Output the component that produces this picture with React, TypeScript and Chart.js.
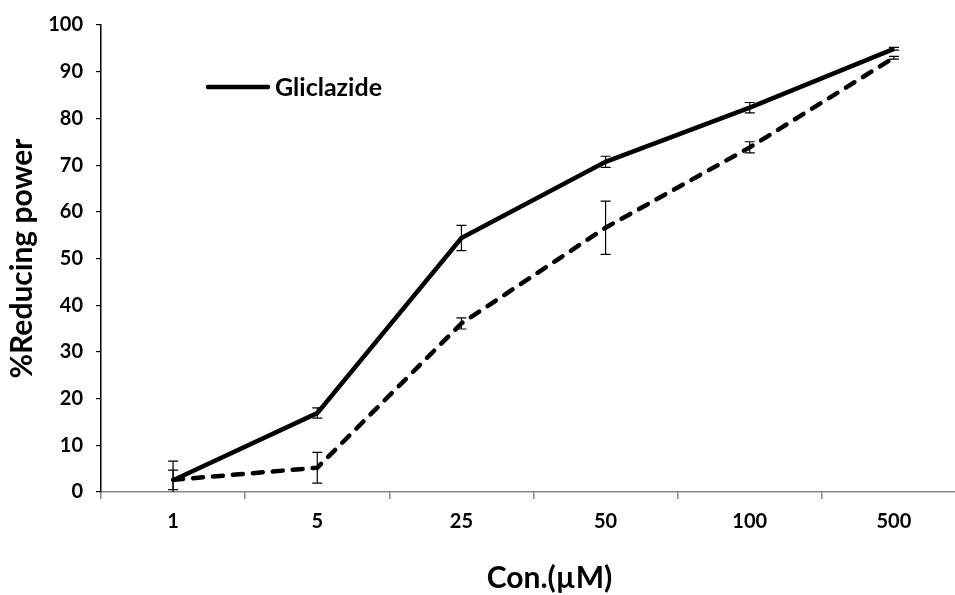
import { useEffect, useRef } from 'react';
import { Chart, registerables } from 'chart.js';

Chart.register(...registerables);

const categories = ['1', '5', '25', '50', '100', '500'];
const gliclazide = [2.5, 16.9, 54.4, 70.7, 82.3, 94.9];
const gliclazideErr = [4.1, 1.1, 2.7, 1.2, 1.1, 0.3];
const secondSeries = [2.6, 5.2, 36.1, 56.6, 73.8, 93.0];
const secondErr = [2.1, 3.3, 1.2, 5.7, 1.2, 0.3];
const yTickStep = 10;
const yTitle = '%Reducing power';
const xTitle = 'Con.(µM)';
const legendLabel = 'Gliclazide';

const FONT = 'Lato';

const errorBarPlugin = {
  id: 'errorBars',
  afterDatasetsDraw(chart: any) {
    const ctx = chart.ctx;
    const area = chart.chartArea;
    const yScale = chart.scales.y;
    ctx.save();
    ctx.strokeStyle = '#000';
    ctx.lineWidth = 1.2;
    chart.data.datasets.forEach((ds: any, i: number) => {
      const errs: number[] = ds.errors;
      if (!errs) return;
      const meta = chart.getDatasetMeta(i);
      meta.data.forEach((pt: any, j: number) => {
        const v = ds.data[j];
        const e = errs[j];
        const x = pt.x;
        let yTop = yScale.getPixelForValue(v + e);
        let yBot = yScale.getPixelForValue(v - e);
        const topIn = yTop >= area.top;
        const botIn = yBot <= area.bottom;
        yTop = Math.max(yTop, area.top);
        yBot = Math.min(yBot, area.bottom);
        ctx.beginPath();
        ctx.moveTo(x, yTop);
        ctx.lineTo(x, yBot);
        if (topIn) {
          ctx.moveTo(x - 5, yTop);
          ctx.lineTo(x + 5, yTop);
        }
        if (botIn) {
          ctx.moveTo(x - 5, yBot);
          ctx.lineTo(x + 5, yBot);
        }
        ctx.stroke();
      });
    });
    ctx.restore();
  },
};

const overlayPlugin = {
  id: 'overlayText',
  afterDraw(chart: any) {
    const ctx = chart.ctx;
    const area = chart.chartArea;
    ctx.save();
    // legend (inside plot area, top-left)
    const lx = area.left + 107;
    const ly = area.top + 62;
    ctx.strokeStyle = '#000';
    ctx.lineWidth = 4.5;
    ctx.lineCap = 'round';
    ctx.beginPath();
    ctx.moveTo(lx, ly);
    ctx.lineTo(lx + 60, ly);
    ctx.stroke();
    ctx.fillStyle = '#000';
    ctx.font = `bold 25px ${FONT}`;
    ctx.textBaseline = 'middle';
    ctx.textAlign = 'left';
    ctx.fillText(legendLabel, lx + 67, ly + 1);
    // x axis title
    ctx.font = `bold 30px ${FONT}`;
    ctx.textAlign = 'center';
    ctx.fillText(xTitle, (area.left + area.right) / 2 + 16, 578);
    ctx.restore();
  },
};

export default function App() {
  const ref = useRef<HTMLCanvasElement>(null);
  useEffect(() => {
    document.body.style.margin = '0';
    const chart = new Chart(ref.current!, {
      type: 'line',
      data: {
        labels: categories,
        datasets: [
          {
            label: legendLabel,
            data: gliclazide,
            errors: gliclazideErr,
            borderColor: '#000',
            backgroundColor: '#000',
            borderWidth: 4.5,
            pointRadius: 0,
            tension: 0,
            fill: false,
          } as any,
          {
            label: '',
            data: secondSeries,
            errors: secondErr,
            borderColor: '#000',
            backgroundColor: '#000',
            borderWidth: 4.5,
            borderDash: [10, 10],
            borderCapStyle: 'round',
            pointRadius: 0,
            tension: 0,
            fill: false,
          } as any,
        ],
      },
      options: {
        responsive: false,
        animation: false,
        layout: { padding: { top: 19, right: 9, left: 0, bottom: 0 } },
        plugins: {
          legend: { display: false },
          tooltip: { enabled: false },
        },
        scales: {
          x: {
            type: 'category',
            offset: true,
            grid: {
              offset: true,
              drawOnChartArea: false,
              drawTicks: true,
              tickLength: 7,
              color: '#868686',
              lineWidth: 1.5,
            },
            border: { color: '#868686', width: 1.5 },
            ticks: {
              color: '#000',
              font: { family: FONT, weight: 'bold', size: 20 },
              padding: 11,
              maxRotation: 0,
              autoSkip: false,
            },
            afterFit: (s: any) => {
              s.height = 103;
            },
          },
          y: {
            min: 0,
            max: 100,
            ticks: {
              stepSize: yTickStep,
              color: '#000',
              font: { family: FONT, weight: 'bold', size: 20 },
              padding: 13,
            },
            grid: {
              drawOnChartArea: false,
              drawTicks: true,
              tickLength: 5,
              color: '#000',
              lineWidth: 1.2,
            },
            border: { color: '#000', width: 1.5 },
            title: {
              display: true,
              text: yTitle,
              color: '#000',
              font: { family: FONT, weight: 'bold', size: 30 },
              padding: { top: 4, bottom: 0 },
            },
            afterFit: (s: any) => {
              s.width = 101;
            },
          },
        },
      },
      plugins: [errorBarPlugin, overlayPlugin],
    } as any);
    return () => chart.destroy();
  }, []);
  return (
    <div style={{ width: 955, height: 595, overflow: 'hidden' }}>
      <canvas ref={ref} width={975} height={595} style={{ display: 'block' }} />
    </div>
  );
}
